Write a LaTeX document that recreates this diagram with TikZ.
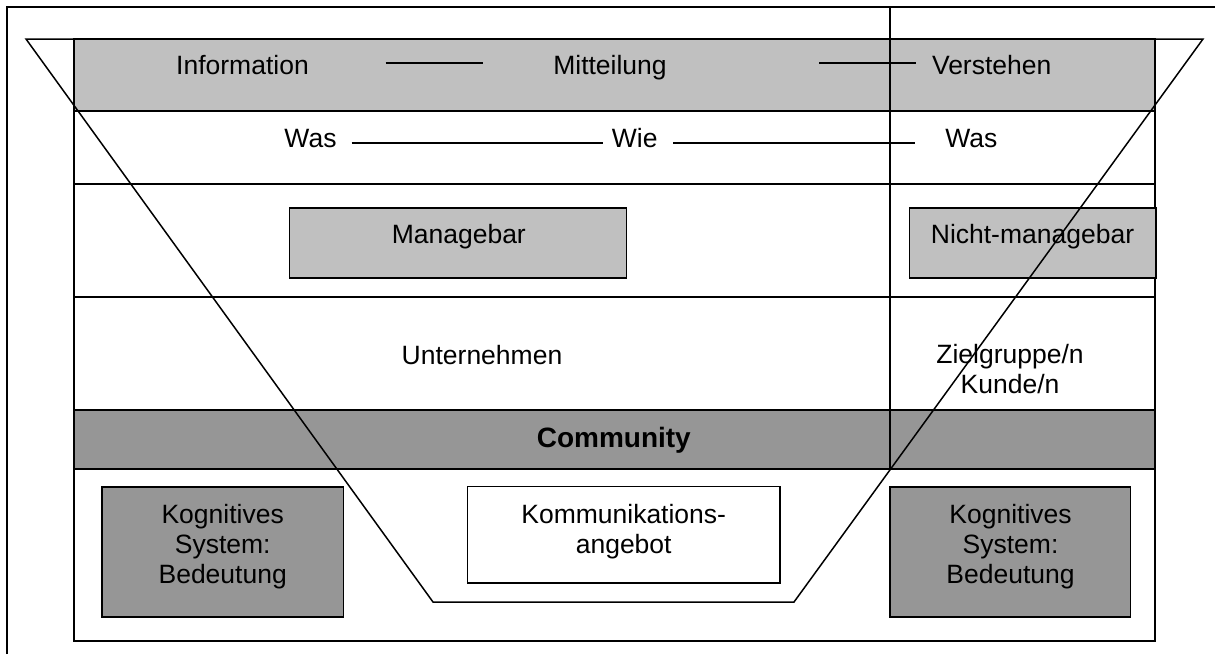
\documentclass[tikz,border=0pt]{standalone}
\usepackage{fontspec}
\setmainfont{Liberation Sans}
\usetikzlibrary{positioning}
\definecolor{lightband}{RGB}{192,192,192}
\definecolor{darkband}{RGB}{150,150,150}

\begin{document}
\begin{tikzpicture}[x=1pt,y=-1pt,
  frame/.style={draw=black,line width=2pt},
  funnel/.style={draw=black,line width=1.5pt,line join=miter},
  link/.style={draw=black,line width=1.7pt},
  box/.style={rectangle,draw=black,line width=1.6pt,inner sep=0pt},
  txt/.style={font=\fontsize{26.5}{30}\selectfont,inner sep=0pt,align=center}]

  \useasboundingbox (0,0) rectangle (1215,654);

  %outer frame, runs off the page right and below
  \draw[frame] (7,654) -- (7,7) -- (1215,7);

  %rows of the inner frame
  \draw[frame] (73.5,110.5) rectangle (1155,641);
  \draw[frame,fill=lightband] (73.5,39) rectangle (1155,110.5);
  \draw[frame] (73.5,184) -- (1155,184);
  \draw[frame] (73.5,297) -- (1155,297);
  \draw[frame,fill=darkband] (73.5,410) rectangle (1155,469);
  \draw[link] (890,7) -- (890,469);

  %boxes
  \node[box,fill=lightband,minimum width=337pt,minimum height=70pt] (mgb) at (458,242.7) {};
  \node[box,fill=lightband,minimum width=246.7pt,minimum height=70pt] (nmgb) at (1032.7,242.7) {};
  \node[box,fill=darkband,minimum width=241.3pt,minimum height=130pt] (kogL) at (222.7,551.7) {};
  \node[box,fill=darkband,minimum width=240.7pt,minimum height=130pt] (kogR) at (1010.3,551.7) {};
  \node[box,fill=white,minimum width=312.7pt,minimum height=96.3pt] (komm) at (623.7,534.8) {};

  %texts
  \node[txt,anchor=base] (info) at (242.5,74) {Information};
  \node[txt,anchor=base] (mitt) at (610,74) {Mitteilung};
  \node[txt,anchor=base] (verst) at (991.7,74) {Verstehen};
  \node[txt,anchor=base] (wasL) at (310.5,147.3) {Was};
  \node[txt,anchor=base] (wie) at (634.7,147.3) {Wie};
  \node[txt,anchor=base] (wasR) at (971.3,147.3) {Was};
  \node[txt,anchor=base] (mgbtext) at (458.8,243.3) {Managebar};
  \node[txt,anchor=base] (nmgbtext) at (1032.5,243.3) {Nicht-managebar};
  \node[txt,anchor=base] (firm) at (482,364) {Unternehmen};
  \node[txt,anchor=north] (target) at (1010,344.5) {Zielgruppe/n\\Kunde/n};
  \node[txt,anchor=base,font=\fontsize{28}{30}\selectfont\bfseries] (comm) at (613.8,447.7) {Community};
  \node[txt,anchor=north] (kogLtext) at (222.7,504.5) {Kognitives\\System:\\Bedeutung};
  \node[txt,anchor=north] (kogRtext) at (1010.5,504.5) {Kognitives\\System:\\Bedeutung};
  \node[txt,anchor=north] (kommtext) at (623.7,504.5) {Kommunikations-\\angebot};

  %lines between the words
  \coordinate (infoEnd) at (385.7,62.7);
  \coordinate (mittStart) at (482.7,62.7);
  \coordinate (mittEnd) at (819,62.7);
  \coordinate (verstStart) at (916,62.7);
  \coordinate (wasEnd) at (351.7,143.3);
  \coordinate (wieStart) at (602.7,143.3);
  \coordinate (wieEnd) at (673.3,143.3);
  \coordinate (wasStart) at (915,143.3);
  \draw[link] (infoEnd) -- (mittStart);
  \draw[link] (mittEnd) -- (verstStart);
  \draw[link] (wasEnd) -- (wieStart);
  \draw[link] (wieEnd) -- (wasStart);

  %funnel over everything
  \draw[funnel] (26,39) -- (433,602) -- (794,602) -- (1203,39) -- cycle;

\end{tikzpicture}
\end{document}
